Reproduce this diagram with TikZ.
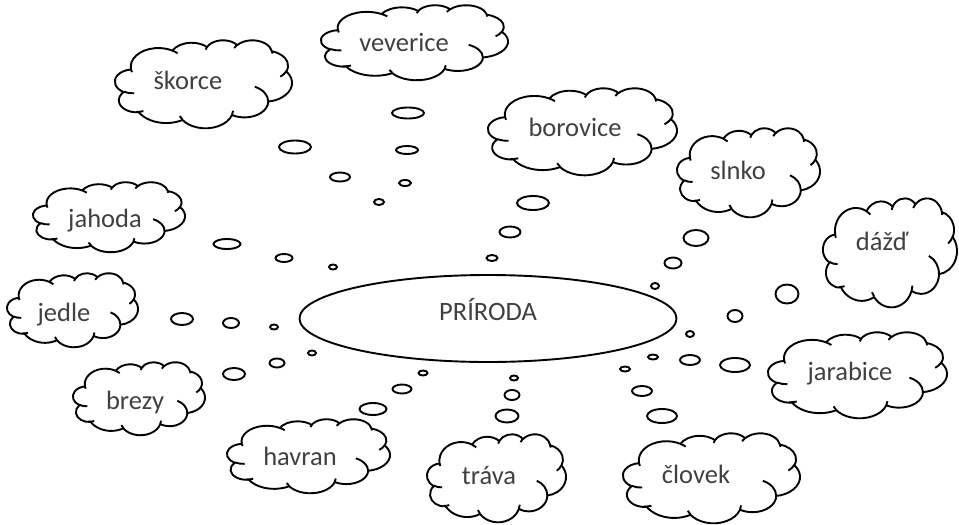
\documentclass[tikz,border=0pt]{standalone}
\usepackage{fontspec}
\setmainfont{Carlito}
\usepackage{tikz}
\usetikzlibrary{shapes.geometric}

% angle on the ellipse, from the angle seen from its centre
\pgfmathdeclarefunction{pang}{3}{\pgfmathparse{atan2(sin(#1)*#2,cos(#1)*#3)}}
% one puff of the cloud: x radius, y radius, start angle, sweep
\newcommand\puff[4]{arc[start angle={pang(#3,#1,#2)},
  delta angle={mod(pang(#3+#4,#1,#2)-pang(#3,#1,#2)+720,360)},
  x radius=#1, y radius=#2]}
% cloud outline in the box left, top, right, bottom
\newcommand\wcloud[4]{%
  \pgfmathsetmacro\cw{(#3-#1)/432}%
  \pgfmathsetmacro\ch{(#4-#2)/432}%
  \begin{scope}[shift={(#1,#2)}, x=\cw pt, y=-\ch pt]
    \draw[cloudline] (39.00,143.70) \puff{67.53}{91.90}{-190.4875}{123.7805}
      \puff{53.33}{72.67}{-144.1024}{89.9452} \puff{43.65}{59.45}{-145.8079}{99.7230}
      \puff{48.57}{65.95}{-130.9861}{117.2417} \puff{53.33}{72.73}{-78.7089}{109.0269}
      \puff{67.75}{92.20}{-46.2673}{130.2690} \puff{57.85}{78.67}{0.6250}{114.0333}
      \puff{67.52}{92.15}{22.4516}{115.1726} \puff{77.20}{105.43}{66.2426}{75.7110}
      \puff{43.60}{59.18}{-274.9421}{146.7356} \puff{43.45}{59.45}{-246.8285}{152.5189}
      -- cycle;
    \draw[cloudline] (46.93,261.77) \puff{43.45}{59.45}{86.7420}{26.4295}
      (69.28,348.99) \puff{43.60}{59.18}{73.6105}{18.5946}
      (164.78,390.90) \puff{67.52}{92.15}{137.6242}{14.0811}
      (288.27,347.51) \puff{67.52}{92.15}{6.4533}{15.9984}
      (341.29,229.54) \puff{57.85}{78.67}{-70.2924}{70.9174}
      (417.98,153.54) \puff{53.33}{72.73}{30.3180}{27.7515}
      (383.24,54.26) \puff{48.57}{65.95}{-13.7443}{14.8589}
      (290.78,39.52) \puff{48.57}{65.95}{-149.1815}{18.1954}
      (221.41,47.20) \puff{43.65}{59.45}{-163.4943}{17.6864}
      (140.00,51.92) \puff{67.53}{91.90}{-66.7070}{12.3194}
      (41.27,157.89) \puff{67.53}{91.90}{157.6544}{11.8582};
  \end{scope}}

\tikzset{
  cloudline/.style={line width=1.9pt, line join=round},
  word/.style={inner sep=0pt, text=black!75, text height=12.5pt, text depth=3pt,
    font=\fontsize{26.5}{30}\selectfont},
  bubble/.style={line width=1.9pt}
}

\begin{document}
\begin{tikzpicture}[x=1pt,y=-1pt]
       \useasboundingbox (0,0) rectangle (959,525);
       \node[word, text depth=9pt, ellipse, draw, line width=1.9pt, minimum width=377pt, minimum height=87pt] (priroda) at (488,318.5) {PRÍRODA};
       % clouds
       \wcloud{115}{40}{292}{128}   \node[word] (skorce) at (188,85) {škorce};
       \wcloud{321}{5}{508}{80}     \node[word] (veverice) at (404,47) {veverice};
       \wcloud{488}{88}{677}{175}   \node[word] (borovice) at (575,132) {borovice};
       \wcloud{677}{128}{820}{217}  \node[word] (slnko) at (738,175) {slnko};
       \wcloud{823}{198}{957}{307}  \node[word] (dazd) at (882,246) {dážď};
       \wcloud{768}{332}{947}{418}  \node[word] (jarabice) at (850,376) {jarabice};
       \wcloud{623}{433}{800}{523}  \node[word] (clovek) at (696,479) {človek};
       \wcloud{427}{434}{566}{522}  \node[word] (trava) at (489,480) {tráva};
       \wcloud{227}{419}{390}{493}  \node[word] (havran) at (300,461) {havran};
       \wcloud{73}{362}{205}{435}   \node[word] (brezy) at (135,405) {brezy};
       \wcloud{7}{273}{138}{347}    \node[word] (jedle) at (64,317) {jedle};
       \wcloud{33}{182}{185}{252}   \node[word] (jahoda) at (105,223) {jahoda};
       % bubbles towards veverice and skorce
       \draw[bubble] (408,113) ellipse (16 and 5.5);
       \draw[bubble] (407,150) ellipse (11 and 4);
       \draw[bubble] (405,183) ellipse (6 and 3);
       \draw[bubble] (379,202) ellipse (5 and 3);
       \draw[bubble] (295,147) ellipse (16 and 6.5);
       \draw[bubble] (340,177) ellipse (10 and 4.5);
       % bubbles towards jahoda
       \draw[bubble] (227,244) ellipse (13.5 and 5);
       \draw[bubble] (284,258) ellipse (8.5 and 4);
       \draw[bubble] (333,267) ellipse (4 and 2.5);
       % bubbles towards borovice and slnko
       \draw[bubble] (533,203) ellipse (16 and 7);
       \draw[bubble] (510,232) ellipse (10.5 and 5.5);
       \draw[bubble] (492,258) ellipse (5.5 and 3);
       \draw[bubble] (696,238) ellipse (12.5 and 8);
       \draw[bubble] (673,263) ellipse (8.5 and 5.5);
       \draw[bubble] (655,286) ellipse (4 and 3);
       % bubbles towards dazd
       \draw[bubble] (787,294) ellipse (11.5 and 9.5);
       \draw[bubble] (735,316) ellipse (7.5 and 6);
       \draw[bubble] (690,334) ellipse (4 and 3);
       % bubbles towards jedle and brezy
       \draw[bubble] (182,319) ellipse (11 and 6);
       \draw[bubble] (231,323) ellipse (8 and 5);
       \draw[bubble] (274,327) ellipse (4 and 2.5);
       \draw[bubble] (312,353) ellipse (4 and 2.5);
       \draw[bubble] (277,363) ellipse (7.5 and 4.5);
       \draw[bubble] (234,374) ellipse (11 and 6);
       % bubbles towards havran and trava
       \draw[bubble] (423,373) ellipse (4.5 and 2.5);
       \draw[bubble] (402,389) ellipse (9.5 and 4.5);
       \draw[bubble] (373,409) ellipse (13.5 and 6);
       \draw[bubble] (514,378) ellipse (4 and 2.5);
       \draw[bubble] (512,395) ellipse (7.5 and 5);
       \draw[bubble] (507,416) ellipse (11.5 and 6.5);
       % bubbles towards clovek and jarabice
       \draw[bubble] (625,369) ellipse (5 and 2.5);
       \draw[bubble] (642,391) ellipse (10 and 5);
       \draw[bubble] (662,416) ellipse (15 and 7);
       \draw[bubble] (653,357) ellipse (5 and 2.5);
       \draw[bubble] (690,360) ellipse (10 and 5);
       \draw[bubble] (735,365) ellipse (15 and 7);
\end{tikzpicture}
\end{document}
